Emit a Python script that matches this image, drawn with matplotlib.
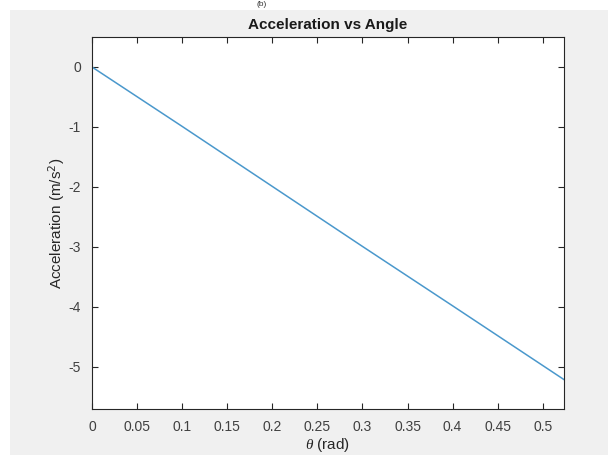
import numpy as np
import matplotlib.pyplot as plt
from matplotlib.patches import Rectangle

plt.rcParams['font.family'] = ['Liberation Sans', 'DejaVu Sans']
plt.rcParams['mathtext.fontset'] = 'custom'
plt.rcParams['mathtext.it'] = 'Liberation Serif:italic'

# data
theta = [0.0, 0.1, 0.2, 0.3, 0.4, 0.5236]
accel = [0.0, -0.99, -1.99, -2.99, -3.98, -5.21]
xticks = [0, 0.05, 0.1, 0.15, 0.2, 0.25, 0.3, 0.35, 0.4, 0.45, 0.5]
xticklabels = ['0', '0.05', '0.1', '0.15', '0.2', '0.25', '0.3', '0.35', '0.4', '0.45', '0.5']
yticks = [0, -1, -2, -3, -4, -5]

fig = plt.figure(figsize=(6.08, 4.55), dpi=100, facecolor='white')
fig.patches.append(Rectangle((10 / 608, 0), 1, 1 - 10 / 455, transform=fig.transFigure,
                             facecolor='#f0f0f0', edgecolor='none', zorder=-10))
fig.text(262 / 608, 1 - 1 / 455, '(b)', ha='center', va='top', fontsize=6, color='#333333')

ax = fig.add_axes([92 / 608, 1 - 409 / 455, (564 - 92) / 608, (409 - 37) / 455])
ax.plot(theta, accel, color='#4a98cc', lw=1.1)
ax.set_xlim(0, 0.5236)
ax.set_ylim(-5.7, 0.5)
ax.set_xticks(xticks)
ax.set_xticklabels(xticklabels)
ax.set_yticks(yticks)
ax.set_yticklabels([str(v) for v in yticks])
ax.tick_params(direction='in', top=True, right=True, length=4, width=0.8,
               colors='#262626', labelcolor='#404040', labelsize=10, pad=8)
for s in ax.spines.values():
    s.set_color('#262626')
    s.set_linewidth(0.8)

ax.set_title('Acceleration vs Angle', fontsize=11, fontweight='bold', color='#1a1a1a', pad=6)
ax.set_xlabel(r'$\theta$ (rad)', fontsize=11, color='#262626', labelpad=1)
ax.set_ylabel(r'Acceleration (m/s$^2$)', fontsize=11, color='#262626', labelpad=1)

fig.savefig('out.png', dpi=100, facecolor=fig.get_facecolor())
